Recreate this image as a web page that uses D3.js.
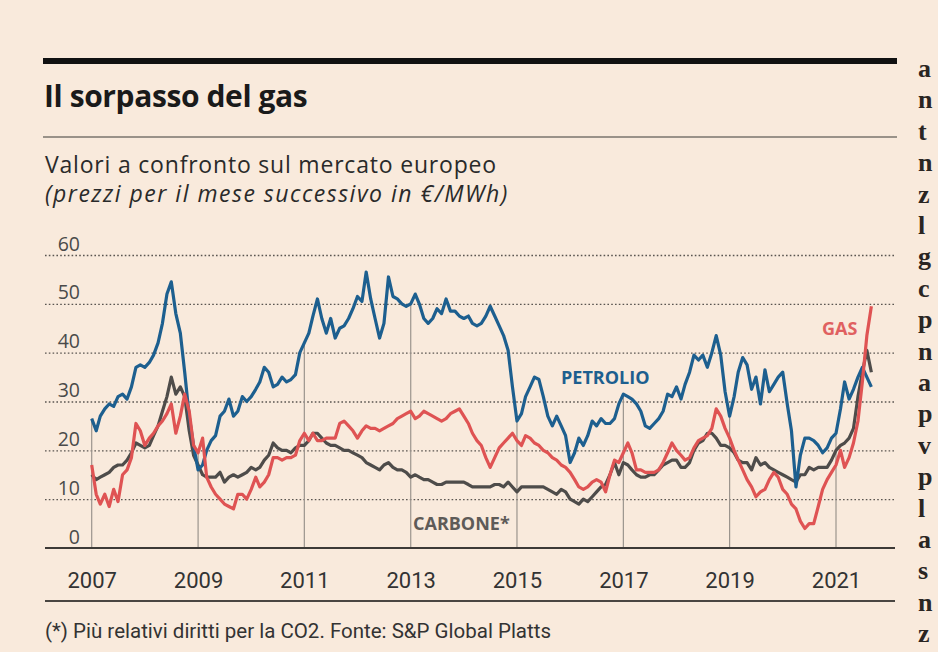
<!DOCTYPE html>
<html>
<head>
<meta charset="utf-8">
<script src="https://cdn.jsdelivr.net/npm/d3@7"></script>
<style>
  body { margin: 0; background: #f8e9db; }
  svg { display: block; }
</style>
</head>
<body>
<svg id="chart" width="938" height="652"></svg>
<script>
// monthly values, first month = Jan 2007
const startMonth = new Date(2007, 0, 1);

const petrolio = [
  26.5, 24, 27, 28.5, 29.5, 29, 31, 31.5, 30.5, 33, 37, 37.5,
  37, 38, 39.5, 42, 46, 52, 54.5, 48, 44, 36, 27, 21,
  16, 17, 20, 22, 23, 27, 28, 30.5, 27, 28, 31, 30,
  31, 32.5, 34, 37, 36, 33, 33.5, 35, 34, 34.5, 35.5, 40,
  42, 44, 47.5, 51, 47, 44, 47, 43, 45, 45.5, 47, 49,
  51.5, 50.5, 56.5, 51, 47, 43, 46, 55.5, 51.5, 51, 50, 49.5,
  50, 52, 50, 47, 46, 47, 49, 48, 51, 48.5, 48.5, 47.5,
  47, 47.5, 46, 45.5, 46, 47.5, 49.5, 47.5, 45.5, 43.5, 40.5, 33,
  26, 27.5, 31, 33, 35, 34.5, 31, 27, 25, 27, 25, 23,
  17.5, 19.5, 22.5, 21, 23, 26, 25, 26.5, 25.5, 25.5, 26.5, 29.5,
  31.5, 31, 30.5, 29.5, 28, 25, 24.5, 25.5, 26.5, 28, 31.5, 31,
  33, 30.5, 33.5, 36, 39.5, 38.5, 39.5, 37, 40, 43.5, 39.5, 32,
  27, 31, 36, 39, 37.5, 32.5, 35, 29.5, 36.5, 32, 33.5, 35,
  36, 29.5, 24, 12.5, 19, 22.5, 22.5, 22, 21, 19.5, 20.5, 22.5,
  23.5, 28.5, 34, 30.5, 32.5, 35, 37, 35, 33
];

const gas = [
  17, 11, 9, 11, 8.5, 12, 9.5, 15, 16, 18.5, 25.5, 24,
  21, 22.5, 23.5, 25, 26, 27.5, 29.5, 23.5, 27, 31.5, 28, 21,
  19.5, 22.5, 14.5, 12.5, 11, 10, 9, 8.5, 8, 11, 11, 10,
  12, 14.5, 12.5, 13.5, 15, 18.5, 18.5, 18, 18.5, 18.5, 19, 22,
  23.5, 22, 23.5, 22, 22, 22.5, 22.5, 22.5, 25.5, 26, 25, 24,
  22.5, 24, 25, 24.5, 24.5, 24, 24.5, 25, 25.5, 26.5, 27, 27.5,
  28, 26.5, 27, 28, 27.5, 27, 26.5, 26, 26.5, 27.5, 28, 28.5,
  27, 25.5, 23.5, 22, 21, 18.5, 16.5, 18.5, 20.5, 21.5, 22.5, 23.5,
  22, 21, 23, 22.5, 21.5, 21, 20, 19.5, 18.5, 18, 17, 16.5,
  15.5, 14, 12.5, 12, 12.5, 13.5, 14, 13.5, 11.5, 15, 18, 17.5,
  19.5, 21.5, 19.5, 16, 16, 15.5, 15.5, 15.5, 16, 17.5, 19.5, 21.5,
  20, 19, 18, 18.5, 20.5, 22, 22.5, 23, 24.5, 28.5, 27, 24.5,
  22.5, 20, 18, 16, 14, 12.5, 10.5, 11.5, 12, 14, 15.5, 14.5,
  12, 11, 9, 8, 5.5, 4, 5, 5, 8.5, 12, 14, 15.5,
  17, 20, 16.5, 18.5, 21.5, 26, 34, 43.5, 49.5
];

const carbone = [
  15, 14, 14.5, 15, 15.5, 16.5, 17, 17, 18, 19.5, 21.5, 21,
  20.5, 21, 23, 25, 28, 31, 35, 31.5, 33, 31, 24, 19,
  17, 15, 14.5, 14.5, 14.5, 15.5, 13.5, 14.5, 15, 14.5, 15, 15.5,
  16.5, 16, 16.5, 18, 19, 21.5, 20.5, 20, 20, 19.5, 20.5, 21,
  21, 22, 23.5, 23.5, 22.5, 21.5, 21, 21, 20.5, 20, 20, 19.5,
  19, 18.5, 17.5, 17, 16.5, 16, 17, 17.5, 16.5, 16, 16, 15.5,
  14.5, 15, 14.5, 14, 14, 13.5, 13, 13, 13.5, 13.5, 13.5, 13.5,
  13.5, 13, 12.5, 12.5, 12.5, 12.5, 12.5, 13, 13, 12.5, 13.5, 12.5,
  11.5, 12.5, 12.5, 12.5, 12.5, 12.5, 12.5, 12, 11.5, 11, 12, 11.5,
  10, 9.5, 9, 10, 9.5, 10.5, 11.5, 12.5, 13, 15, 17.5, 15,
  17.5, 17, 16, 15, 14.5, 14.5, 15, 15, 16, 17, 17.5, 18,
  18, 16.5, 16.5, 17.5, 20, 21.5, 22, 23.5, 23.5, 22.5, 21, 21,
  20.5, 19.5, 18, 17.5, 17.5, 16, 18.5, 17, 17.5, 16.5, 16, 15.5,
  15, 14.5, 14, 13.5, 15, 15, 16.5, 16, 16.5, 16.5, 16.5, 18,
  20, 21, 21.5, 22.5, 24.5, 31, 36, 40.5, 36
];

const yTicks = [0, 10, 20, 30, 40, 50, 60];
const yearTicks = [2007, 2009, 2011, 2013, 2015, 2017, 2019, 2021];
const sideLetters = ['a', 'n', 't', 'n', 'z', 'l', 'g', 'c', 'p', 'n', 'a', 'p', 'v', 'p', 'l', 'a', 's', 'n', 'z'];

const svg = d3.select('#chart');
const W = 938, H = 652;
const left = 45, right = 895;

svg.append('rect').attr('width', W).attr('height', H).attr('fill', '#f9eadc');

const x = d3
  .scaleTime()
  .domain([new Date(2007, 0, 1), new Date(2021, 0, 1)])
  .range([91.7, 836]);

const y = d3.scaleLinear().domain([0, 60]).range([548, 255]);

const date = (i) => d3.timeMonth.offset(startMonth, i);

// header
svg.append('rect').attr('x', 43).attr('y', 58).attr('width', 854).attr('height', 6).attr('fill', '#111');
svg.append('text')
  .attr('x', 44).attr('y', 107)
  .attr('font-family', '"Open Sans", sans-serif').attr('font-weight', 700)
  .attr('font-size', 30).attr('letter-spacing', -0.4).attr('fill', '#1a1a1a')
  .text('Il sorpasso del gas');
svg.append('line').attr('x1', 43).attr('x2', 897).attr('y1', 137).attr('y2', 137)
  .attr('stroke', '#7a746e').attr('stroke-width', 1.5);
svg.append('text')
  .attr('x', 45).attr('y', 173)
  .attr('font-family', '"Open Sans", sans-serif').attr('font-size', 23)
  .attr('letter-spacing', 0.8).attr('fill', '#2a2a2a')
  .text('Valori a confronto sul mercato europeo');
svg.append('text')
  .attr('x', 45).attr('y', 202)
  .attr('font-family', '"Open Sans", sans-serif').attr('font-style', 'italic')
  .attr('font-size', 23).attr('letter-spacing', 1.5).attr('fill', '#2a2a2a')
  .text('(prezzi per il mese successivo in €/MWh)');

// y grid + labels
const yAxis = d3.axisRight(y).tickValues(yTicks).tickSize(right - left);
const gy = svg.append('g').attr('transform', `translate(${left},0)`).call(yAxis);
gy.select('.domain').remove();
gy.selectAll('.tick line')
  .attr('stroke', '#5a5550').attr('stroke-width', 1.4).attr('stroke-dasharray', '1.6,2.2')
  .filter((d) => d === 0).remove();
gy.selectAll('.tick text')
  .attr('x', 35).attr('dy', null).attr('y', -5)
  .attr('text-anchor', 'end')
  .attr('font-family', '"Open Sans", sans-serif').attr('font-size', 19.5).attr('fill', '#4a4a4a');

// year drop lines
const yearDates = yearTicks.map((yr) => new Date(yr, 0, 1));
svg.append('g').selectAll('line')
  .data(yearTicks)
  .enter()
  .append('line')
  .attr('x1', (yr) => x(new Date(yr, 0, 1)))
  .attr('x2', (yr) => x(new Date(yr, 0, 1)))
  .attr('y1', y(0))
  .attr('y2', (yr) => {
    const i = (yr - 2007) * 12;
    return y(Math.max(petrolio[i], gas[i], carbone[i]));
  })
  .attr('stroke', '#9b948d').attr('stroke-width', 1.2);

// x axis
const xAxis = d3.axisBottom(x).tickValues(yearDates).tickFormat(d3.timeFormat('%Y')).tickSize(0).tickPadding(24);
const gx = svg.append('g').attr('transform', `translate(0,${y(0)})`).call(xAxis);
gx.select('.domain').remove();
gx.selectAll('.tick text')
  .attr('font-family', 'Roboto, sans-serif').attr('font-size', 22).attr('fill', '#333');

svg.append('line').attr('x1', left).attr('x2', right).attr('y1', y(0)).attr('y2', y(0))
  .attr('stroke', '#3d3a37').attr('stroke-width', 2);
svg.append('line').attr('x1', left).attr('x2', right).attr('y1', 601).attr('y2', 601)
  .attr('stroke', '#4a4642').attr('stroke-width', 2);

// series
const line = d3.line().x((d, i) => x(date(i))).y((d) => y(d));

const series = [
  { values: carbone, color: '#4e4c4a' },
  { values: petrolio, color: '#1d5f8f' },
  { values: gas, color: '#df5353' },
];

svg.append('g').selectAll('path')
  .data(series)
  .enter()
  .append('path')
  .attr('fill', 'none')
  .attr('stroke', (s) => s.color)
  .attr('stroke-width', 3.2)
  .attr('stroke-linejoin', 'round')
  .attr('d', (s) => line(s.values));

// series labels
const labels = [
  { text: 'PETROLIO', x: 561, y: 384, color: '#1d5f8f' },
  { text: 'GAS', x: 822, y: 335, color: '#e06060' },
  { text: 'CARBONE*', x: 413, y: 530, color: '#5e5b58' },
];
svg.append('g').selectAll('text')
  .data(labels)
  .enter()
  .append('text')
  .attr('x', (d) => d.x).attr('y', (d) => d.y)
  .attr('font-family', '"Open Sans", sans-serif').attr('font-weight', 700)
  .attr('font-size', 18).attr('fill', (d) => d.color)
  .text((d) => d.text);

// footnote
svg.append('text')
  .attr('x', 45).attr('y', 638)
  .attr('font-family', 'Roboto, sans-serif').attr('font-size', 20.5).attr('fill', '#333')
  .text('(*) Più relativi diritti per la CO2. Fonte: S&P Global Platts');

// neighbouring column, cut off at the edge
svg.append('g').selectAll('text')
  .data(sideLetters)
  .enter()
  .append('text')
  .attr('x', 918)
  .attr('y', (d, i) => 77 + i * 31.4)
  .attr('font-family', '"Liberation Serif", serif').attr('font-weight', 700)
  .attr('font-size', 26).attr('fill', '#2a2522')
  .text((d) => d);
</script>
</body>
</html>
